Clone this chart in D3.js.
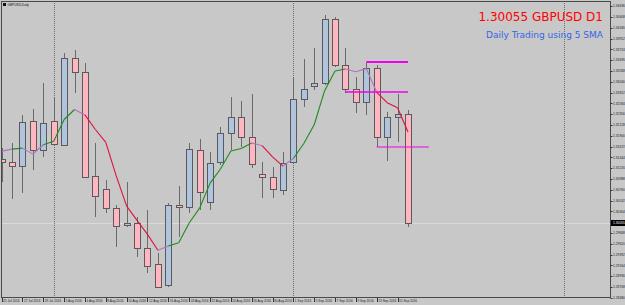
<!DOCTYPE html>
<html>
<head>
<meta charset="utf-8">
<script src="https://cdn.jsdelivr.net/npm/d3@7"></script>
<style>
  html, body { margin: 0; padding: 0; background: #c8c8c8; overflow: hidden; }
  svg { display: block; }
</style>
</head>
<body>
<script>
// bars, 25 Jul 2016 .. 16 Sep 2016 (D1)
const dates = [
  "25 Jul 2016", "26 Jul 2016", "27 Jul 2016", "28 Jul 2016", "29 Jul 2016",
  "1 Aug 2016", "2 Aug 2016", "3 Aug 2016", "4 Aug 2016", "5 Aug 2016",
  "8 Aug 2016", "9 Aug 2016", "10 Aug 2016", "11 Aug 2016", "12 Aug 2016",
  "15 Aug 2016", "16 Aug 2016", "17 Aug 2016", "18 Aug 2016", "19 Aug 2016",
  "22 Aug 2016", "23 Aug 2016", "24 Aug 2016", "25 Aug 2016", "26 Aug 2016",
  "29 Aug 2016", "30 Aug 2016", "31 Aug 2016", "1 Sep 2016", "2 Sep 2016",
  "5 Sep 2016", "6 Sep 2016", "7 Sep 2016", "8 Sep 2016", "9 Sep 2016",
  "12 Sep 2016", "13 Sep 2016", "14 Sep 2016", "15 Sep 2016", "16 Sep 2016"
];
const opens = [
  1.31407, 1.31344, 1.31259, 1.32210, 1.31597, 1.32210, 1.31703, 1.33541, 1.33246, 1.31048,
  1.30773, 1.30372, 1.30013, 1.30055, 1.29527, 1.29189, 1.28745, 1.30435, 1.30393, 1.31597,
  1.30499, 1.31344, 1.31957, 1.32295, 1.31872, 1.31090, 1.31027, 1.30752, 1.31344, 1.32675,
  1.32950, 1.33013, 1.34366, 1.33394, 1.32886, 1.32612, 1.33330, 1.31872, 1.32295, 1.32358
];
const highs = [
  1.31640, 1.31745, 1.32337, 1.32464, 1.33013, 1.32717, 1.33647, 1.33710, 1.33436, 1.31745,
  1.30964, 1.30435, 1.30921, 1.30182, 1.30330, 1.29421, 1.30478, 1.30837, 1.31745, 1.31830,
  1.31555, 1.32083, 1.32717, 1.32633, 1.32781, 1.31344, 1.31238, 1.31555, 1.33140, 1.33520,
  1.33753, 1.34450, 1.34408, 1.33753, 1.33140, 1.33436, 1.33394, 1.32400, 1.32781, 1.32443
];
const lows = [
  1.30921, 1.30562, 1.30689, 1.31175, 1.31450, 1.31724, 1.31682, 1.32802, 1.31027, 1.30182,
  1.30266, 1.29548, 1.29970, 1.29337, 1.28998, 1.28682, 1.28703, 1.29759, 1.30266, 1.30330,
  1.30330, 1.31281, 1.31597, 1.31661, 1.31217, 1.30583, 1.30583, 1.30647, 1.31323, 1.32506,
  1.32865, 1.32971, 1.33351, 1.32802, 1.32379, 1.32337, 1.31661, 1.31365, 1.31767, 1.29970
];
const closes = [
  1.31344, 1.31259, 1.32189, 1.31597, 1.32168, 1.31724, 1.33541, 1.33246, 1.31027, 1.30626,
  1.30372, 1.29992, 1.30055, 1.29527, 1.29146, 1.28703, 1.30435, 1.30393, 1.31619, 1.30710,
  1.31323, 1.31957, 1.32295, 1.31872, 1.31302, 1.31027, 1.30773, 1.31323, 1.32675, 1.32886,
  1.33013, 1.34366, 1.33394, 1.32886, 1.32612, 1.33330, 1.31872, 1.32295, 1.32358, 1.30055
];
// 5 period SMA as drawn on the chart
const sma5 = [
  1.31576, 1.31619, 1.31640, 1.31513, 1.31711, 1.31787, 1.32244, 1.32455, 1.32341, 1.32033,
  1.31762, 1.31053, 1.30414, 1.30114, 1.29818, 1.29485, 1.29573, 1.29641, 1.30059, 1.30372,
  1.30896, 1.31200, 1.31581, 1.31631, 1.31750, 1.31691, 1.31454, 1.31259, 1.31420, 1.31737,
  1.32134, 1.32853, 1.33267, 1.33309, 1.33254, 1.33318, 1.32819, 1.32599, 1.32493, 1.31982
];
const yTicks = [
  1.34636, 1.34408, 1.34180, 1.33952, 1.33724, 1.33496, 1.33268, 1.33040, 1.32812, 1.32584,
  1.32356, 1.32128, 1.31900, 1.31672, 1.31444, 1.31216, 1.30988, 1.30760, 1.30532, 1.30304,
  1.30076, 1.29848, 1.29620, 1.29392, 1.29164, 1.28936, 1.28708, 1.28480
];
// horizontal levels (price, from bar, to bar)
const levelPrices = [1.33457, 1.32823, 1.31661];
const levelFrom = [35, 33, 36];
const levelTo = [39, 39, 41];
// dotted vertical lines (bar index)
const vLines = [5, 28, 54];

const bid = 1.30055;
const symbol = "GBPUSD";
const period = "D1";
const subTitle = "Daily Trading using 5 SMA";
const chartName = "GBPUSD,Daily";

const W = 625, H = 305;
const plot = { l: 1, t: 1, r: 610, b: 297 };

const svg = d3.select("body").append("svg")
  .attr("width", W)
  .attr("height", H)
  .style("background", "#c8c8c8");

const x = d3.scaleLinear().domain([0, 54]).range([1.6, 1.6 + 54 * 10.42]);
const y = d3.scaleLinear().domain([1.28480, 1.34746]).range([297.8, 1]);
const px = (v) => Math.round(v) + 0.5;

svg.append("defs").append("clipPath").attr("id", "clip")
  .append("rect")
  .attr("x", plot.l + 1).attr("y", plot.t + 1)
  .attr("width", plot.r - plot.l - 1).attr("height", plot.b - plot.t - 1);

const g = svg.append("g").attr("clip-path", "url(#clip)");

// bid line
g.append("line")
  .attr("x1", plot.l).attr("x2", plot.r)
  .attr("y1", px(y(bid))).attr("y2", px(y(bid)))
  .attr("stroke", "#dadada").attr("stroke-width", 1);

// separators
g.selectAll(".sep").data(vLines).enter().append("line")
  .attr("class", "sep")
  .attr("x1", (d) => px(x(d))).attr("x2", (d) => px(x(d)))
  .attr("y1", plot.t).attr("y2", plot.b)
  .attr("stroke", "#6e6e6e").attr("stroke-width", 1)
  .attr("stroke-dasharray", "1,1");

// candles
const idx = d3.range(dates.length);
const candle = g.selectAll(".candle").data(idx).enter().append("g").attr("class", "candle");

candle.append("line")
  .attr("x1", (i) => px(x(i))).attr("x2", (i) => px(x(i)))
  .attr("y1", (i) => Math.round(y(highs[i]))).attr("y2", (i) => Math.round(y(lows[i])))
  .attr("stroke", "#6a6a6a").attr("stroke-width", 1);

candle.append("rect")
  .attr("x", (i) => Math.round(x(i)) - 2.5)
  .attr("y", (i) => px(y(Math.max(opens[i], closes[i]))))
  .attr("width", 6)
  .attr("height", (i) => Math.max(1, Math.round(Math.abs(y(opens[i]) - y(closes[i])))))
  .attr("fill", (i) => closes[i] >= opens[i] ? "#b0c4de" : "#ffb6c1")
  .attr("stroke", "#5a5a5a").attr("stroke-width", 1);

// SMA, coloured by direction
const dir = sma5.map((v, i) => i === 0 ? 0 : Math.sign(v - sma5[i - 1]));
const segs = d3.range(1, sma5.length).map((i) => ({ i, c: dir[i] > 0 && dir[i - 1] > 0 ? "#1f8a1f" : (dir[i] < 0 && dir[i - 1] < 0 ? "#e0103c" : "#b56fc2") }));
g.selectAll(".ma").data(segs).enter().append("line")
  .attr("class", "ma")
  .attr("x1", (d) => x(d.i - 1)).attr("y1", (d) => y(sma5[d.i - 1]))
  .attr("x2", (d) => x(d.i)).attr("y2", (d) => y(sma5[d.i]))
  .attr("stroke", (d) => d.c).attr("stroke-width", 1.1);

// levels
const lw = [2, 1.6, 1];
g.selectAll(".lvl").data(levelPrices).enter().append("line")
  .attr("class", "lvl")
  .attr("x1", (d, i) => x(levelFrom[i])).attr("x2", (d, i) => x(levelTo[i]))
  .attr("y1", (d) => Math.round(y(d))).attr("y2", (d) => Math.round(y(d)))
  .attr("stroke", "#ee00ee").attr("stroke-width", (d, i) => lw[i]);

// frame
svg.append("rect")
  .attr("x", plot.l + 0.5).attr("y", plot.t + 0.5)
  .attr("width", plot.r - plot.l).attr("height", plot.b - plot.t)
  .attr("fill", "none").attr("stroke", "#4a4a4a").attr("stroke-width", 1);

// price axis
const yAxis = svg.append("g");
yAxis.selectAll("line").data(yTicks).enter().append("line")
  .attr("x1", plot.r + 0.5).attr("x2", plot.r + 2.5)
  .attr("y1", (d) => px(y(d))).attr("y2", (d) => px(y(d)))
  .attr("stroke", "#333");
yAxis.selectAll("text").data(yTicks).enter().append("text")
  .attr("x", plot.r + 3).attr("y", (d) => y(d) + 1.2)
  .attr("font-family", "Liberation Sans, Arial, sans-serif")
  .attr("font-size", 3.3).attr("fill", "#222")
  .text((d) => d3.format(".5f")(d));

// bid label
svg.append("rect")
  .attr("x", plot.r + 1).attr("y", Math.round(y(bid)) - 3)
  .attr("width", 14).attr("height", 6).attr("fill", "#000");
svg.append("text")
  .attr("x", plot.r + 3).attr("y", y(bid) + 1.2)
  .attr("font-family", "Liberation Sans, Arial, sans-serif")
  .attr("font-size", 3.3).attr("fill", "#fff")
  .text(d3.format(".5f")(bid));

// time axis
const xTickIdx = idx.filter((i) => i % 2 === 0);
const xAxis = svg.append("g");
xAxis.selectAll("line").data(xTickIdx).enter().append("line")
  .attr("x1", (i) => px(x(i))).attr("x2", (i) => px(x(i)))
  .attr("y1", plot.b + 1).attr("y2", plot.b + 5)
  .attr("stroke", "#333");
xAxis.selectAll("text").data(xTickIdx).enter().append("text")
  .attr("x", (i) => Math.max(3, x(i) + 1.5)).attr("y", plot.b + 5)
  .attr("font-family", "Liberation Sans, Arial, sans-serif")
  .attr("font-size", 3.2).attr("fill", "#222")
  .text((i) => dates[i]);

// chart name, top left
svg.append("rect").attr("x", 3).attr("y", 3).attr("width", 3).attr("height", 3)
  .attr("fill", "#111");
svg.append("text")
  .attr("x", 7.5).attr("y", 5.8)
  .attr("font-family", "Liberation Sans, Arial, sans-serif")
  .attr("font-size", 3.2).attr("fill", "#111")
  .text(chartName);

// titles
svg.append("text")
  .attr("x", 603).attr("y", 20.5)
  .attr("text-anchor", "end")
  .attr("font-family", "DejaVu Sans, sans-serif")
  .attr("font-size", 12).attr("fill", "#ff0000")
  .text(`${d3.format(".5f")(bid)} ${symbol} ${period}`);
svg.append("text")
  .attr("x", 603).attr("y", 38)
  .attr("text-anchor", "end")
  .attr("font-family", "DejaVu Sans, sans-serif")
  .attr("font-size", 9).attr("fill", "#3366e6")
  .text(subTitle);
</script>
</body>
</html>
